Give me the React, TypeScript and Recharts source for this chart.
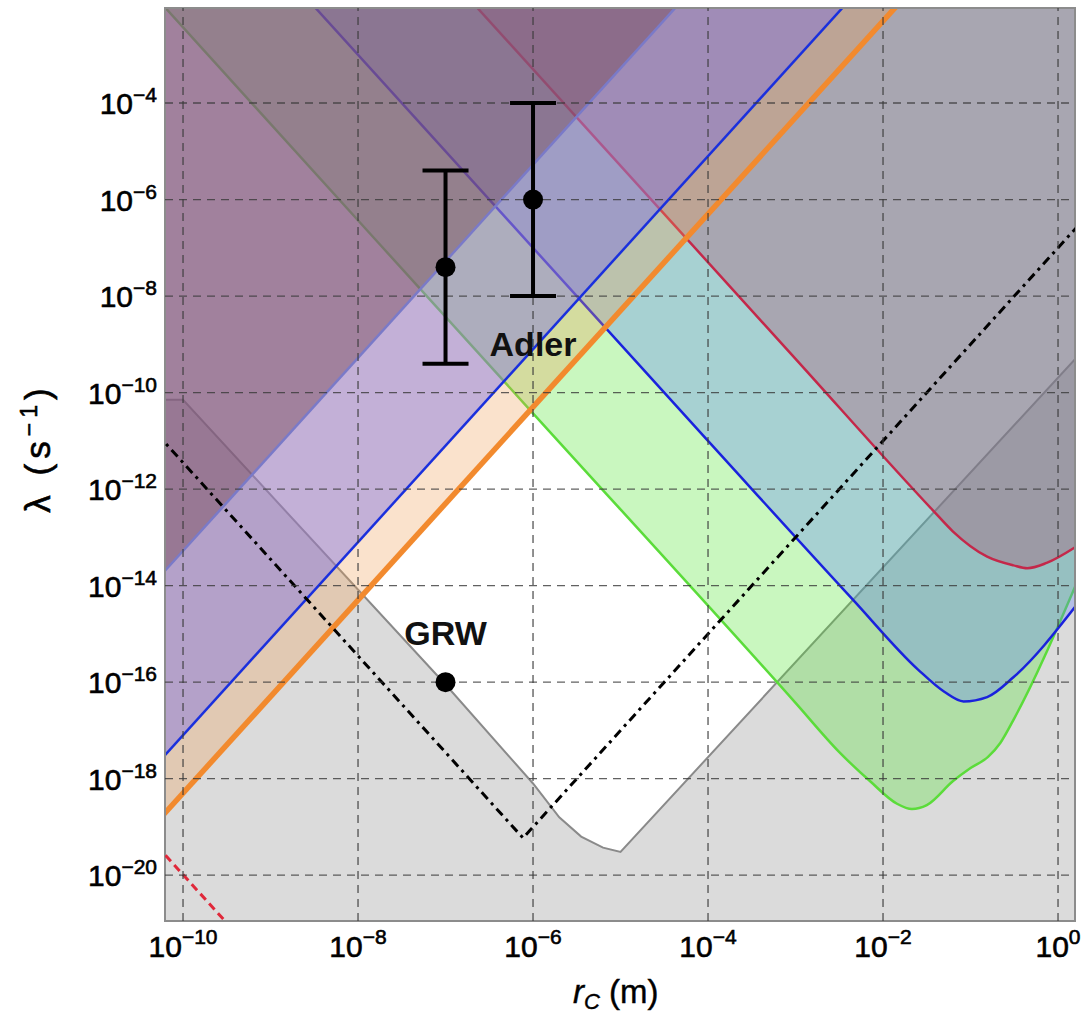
import React from 'react';
import {
  ComposedChart,
  Area,
  Line,
  Scatter,
  ErrorBar,
  XAxis,
  YAxis,
  ReferenceLine,
  ReferenceArea,
} from 'recharts';

// all values are log10: x = log10(rC / m), y = log10(lambda / s^-1)
const X_TICKS = [-10, -8, -6, -4, -2, 0];
const Y_TICKS = [-20, -18, -16, -14, -12, -10, -8, -6, -4];
const X_DOMAIN = [-10.206, 0.194];
const Y_DOMAIN = [-20.95, -2.03];

// theoretical lower bound (grey, excludes below)
const grayBound = [
  { x: -10.3, y: -10.15 },
  { x: -10.0, y: -10.15 },
  { x: -7.0, y: -16.05 },
  { x: -6.0, y: -18.1 },
  { x: -5.7, y: -18.8 },
  { x: -5.45, y: -19.2 },
  { x: -5.2, y: -19.43 },
  { x: -5.0, y: -19.52 },
  { x: 0.3, y: -9.1 },
];

// upper bounds (exclude above)
const greenBound = [
  { x: -10.3, y: -1.83 },
  { x: -6.0, y: -10.43 },
  { x: -3.0, y: -16.43 },
  { x: -2.5, y: -17.45 },
  { x: -2.15, y: -18.05 },
  { x: -1.84, y: -18.52 },
  { x: -1.67, y: -18.63 },
  { x: -1.5, y: -18.55 },
  { x: -1.2, y: -18.05 },
  { x: -1.0, y: -17.78 },
  { x: -0.8, y: -17.55 },
  { x: -0.66, y: -17.26 },
  { x: -0.5, y: -16.75 },
  { x: 0.2, y: -14.0 },
];

const blueBound = [
  { x: -8.8, y: -1.4 },
  { x: -4.0, y: -11.0 },
  { x: -2.35, y: -14.28 },
  { x: -1.6, y: -15.74 },
  { x: -1.3, y: -16.2 },
  { x: -1.08, y: -16.4 },
  { x: -0.81, y: -16.31 },
  { x: -0.51, y: -15.9 },
  { x: 0.2, y: -14.43 },
];

const redBound = [
  { x: -6.9, y: -1.5 },
  { x: -3.0, y: -9.3 },
  { x: -1.43, y: -12.44 },
  { x: -1.2, y: -12.88 },
  { x: -0.81, y: -13.4 },
  { x: -0.51, y: -13.58 },
  { x: -0.35, y: -13.64 },
  { x: -0.13, y: -13.53 },
  { x: 0.2, y: -13.2 },
];

const orangeBound = [
  { x: -10.3, y: -18.9 },
  { x: -1.6, y: -1.5 },
];

const blueRiseBound = [
  { x: -10.3, y: -17.7 },
  { x: -2.2, y: -1.5 },
];

const slateBound = [
  { x: -10.3, y: -13.88 },
  { x: -4.11, y: -1.5 },
];

const dashDot = [
  { x: -10.3, y: -10.85 },
  { x: -6.114, y: -19.23 },
  { x: 0.3, y: -6.4 },
];

const redDashed = [
  { x: -10.3, y: -19.39 },
  { x: -9.4, y: -21.19 },
];

const adlerPoints = [
  { x: -7, y: -7.4, err: 2 },
  { x: -6, y: -6, err: 2 },
];
const grwPoint = [{ x: -7, y: -16 }];

const textLabels = [
  { x: -6.0, y: -9.24, label: 'Adler' },
  { x: -7.0, y: -15.23, label: 'GRW' },
];

const FONT = '"Liberation Sans", Arial, Helvetica, sans-serif';

const supLabel = (v: number) => (v === 0 ? '0' : '\u2212' + Math.abs(v));

const XTick = (props: any) => {
  const { x, y, payload } = props;
  return (
    <text x={x} y={y + 36} textAnchor="middle" fontFamily={FONT} fontSize={30}
      fill="#000" stroke="#000" strokeWidth={0.6}>
      <tspan>10</tspan>
      <tspan dy={-13} fontSize={21}>{supLabel(payload.value)}</tspan>
    </text>
  );
};

const YTick = (props: any) => {
  const { x, y, payload } = props;
  return (
    <text x={x} y={y + 11} textAnchor="end" fontFamily={FONT} fontSize={30}
      fill="#000" stroke="#000" strokeWidth={0.6}>
      <tspan>10</tspan>
      <tspan dy={-12} fontSize={21}>{supLabel(payload.value)}</tspan>
    </text>
  );
};

const Dot = (p: any) => <circle cx={p.cx} cy={p.cy} r={10} fill="#000" />;

const TextMark = (p: any) => (
  <text
    x={p.cx}
    y={p.cy}
    textAnchor="middle"
    fontFamily={FONT}
    fontWeight="bold"
    fontSize={34}
    fill="#111"
  >
    {p.payload.label}
  </text>
);

const gridStyle = { stroke: '#3a3a3a', strokeDasharray: '8 6', strokeWidth: 1.4, strokeOpacity: 0.8 };

export default function App() {
  return (
    <div style={{ width: 1081, height: 1021, background: '#fff' }}>
      <style>{'body{margin:0}'}</style>
      <ComposedChart width={1081} height={1021} margin={{ top: 8, right: 6, bottom: 0, left: 0 }}>
        <XAxis
          dataKey="x"
          type="number"
          domain={X_DOMAIN}
          ticks={X_TICKS}
          allowDataOverflow
          axisLine={false}
          tickLine={false}
          tickSize={0}
          tickMargin={0}
          height={100}
          tick={<XTick />}
          interval={0}
        />
        <YAxis
          dataKey="y"
          type="number"
          domain={Y_DOMAIN}
          ticks={Y_TICKS}
          allowDataOverflow
          axisLine={false}
          tickLine={false}
          tickSize={0}
          tickMargin={8}
          width={165}
          tick={<YTick />}
          interval={0}
        />

        <Area data={grayBound} dataKey="y" type="linear" baseValue={-21.5}
          fill="#646464" fillOpacity={0.23} stroke="#8a8a8a" strokeWidth={2} isAnimationActive={false} />
        <Area data={greenBound} dataKey="y" type="monotone" baseValue={-1.0}
          fill="rgb(75,228,42)" fillOpacity={0.3} stroke="#5bdc3a" strokeWidth={2.5} isAnimationActive={false} />
        <Area data={blueBound} dataKey="y" type="monotone" baseValue={-1.0}
          fill="rgb(91,124,254)" fillOpacity={0.3} stroke="#1a22dd" strokeWidth={2.5} isAnimationActive={false} />
        <Area data={redBound} dataKey="y" type="monotone" baseValue={-1.0}
          fill="rgb(171,67,103)" fillOpacity={0.3} stroke="#c4284a" strokeWidth={2.5} isAnimationActive={false} />
        <Area data={orangeBound} dataKey="y" type="linear" baseValue={-1.0}
          fill="rgb(238,158,85)" fillOpacity={0.3} stroke="#f28a2e" strokeWidth={5.5} isAnimationActive={false} />
        <Area data={blueRiseBound} dataKey="y" type="linear" baseValue={-1.0}
          fill="rgb(120,108,230)" fillOpacity={0.42} stroke="#1a30dd" strokeWidth={2.5} isAnimationActive={false} />
        <Area data={slateBound} dataKey="y" type="linear" baseValue={-1.0}
          fill="rgb(110,60,70)" fillOpacity={0.4} stroke="#7a7ac8" strokeWidth={2.5} isAnimationActive={false} />

        <Line data={dashDot} dataKey="y" type="linear" stroke="#000" strokeWidth={3}
          strokeDasharray="9 5 3 5" dot={false} isAnimationActive={false} />
        <Line data={redDashed} dataKey="y" type="linear" stroke="#e0283a" strokeWidth={3}
          strokeDasharray="8 5" dot={false} isAnimationActive={false} />

        {X_TICKS.map((t) => (
          <ReferenceLine key={'gx' + t} x={t} {...gridStyle} />
        ))}
        {Y_TICKS.map((t) => (
          <ReferenceLine key={'gy' + t} y={t} {...gridStyle} />
        ))}
        <ReferenceArea x1={X_DOMAIN[0]} x2={X_DOMAIN[1]} y1={Y_DOMAIN[0]} y2={Y_DOMAIN[1]}
          fill="none" stroke="#8c8c8c" strokeWidth={2} />

        <Scatter data={adlerPoints} dataKey="y" shape={Dot} isAnimationActive={false}>
          <ErrorBar dataKey="err" direction="y" width={23} strokeWidth={4} stroke="#000" isAnimationActive={false} />
        </Scatter>
        <Scatter data={grwPoint} dataKey="y" shape={Dot} isAnimationActive={false} />
        <Scatter data={textLabels} dataKey="y" shape={TextMark} isAnimationActive={false} />
      </ComposedChart>

      <svg width={1081} height={1021} style={{ position: 'absolute', left: 0, top: 0, pointerEvents: 'none' }}>
        <text transform="rotate(-90, 50, 448)" x={50} y={448} textAnchor="middle"
          fontFamily={FONT} fontSize={35} letterSpacing={5} fill="#000" stroke="#000" strokeWidth={0.6}>
          <tspan>λ (s</tspan>
          <tspan dy={-13} fontSize={23}>−1</tspan>
          <tspan dy={13}>)</tspan>
        </text>
        <text x={573} y={1003} fontFamily={FONT} fontSize={33} fill="#000" stroke="#000" strokeWidth={0.4}>
          <tspan fontStyle="italic">r</tspan>
          <tspan fontStyle="italic" fontSize={22} dy={6}>C</tspan>
          <tspan dy={-6}> (m)</tspan>
        </text>
      </svg>
    </div>
  );
}
